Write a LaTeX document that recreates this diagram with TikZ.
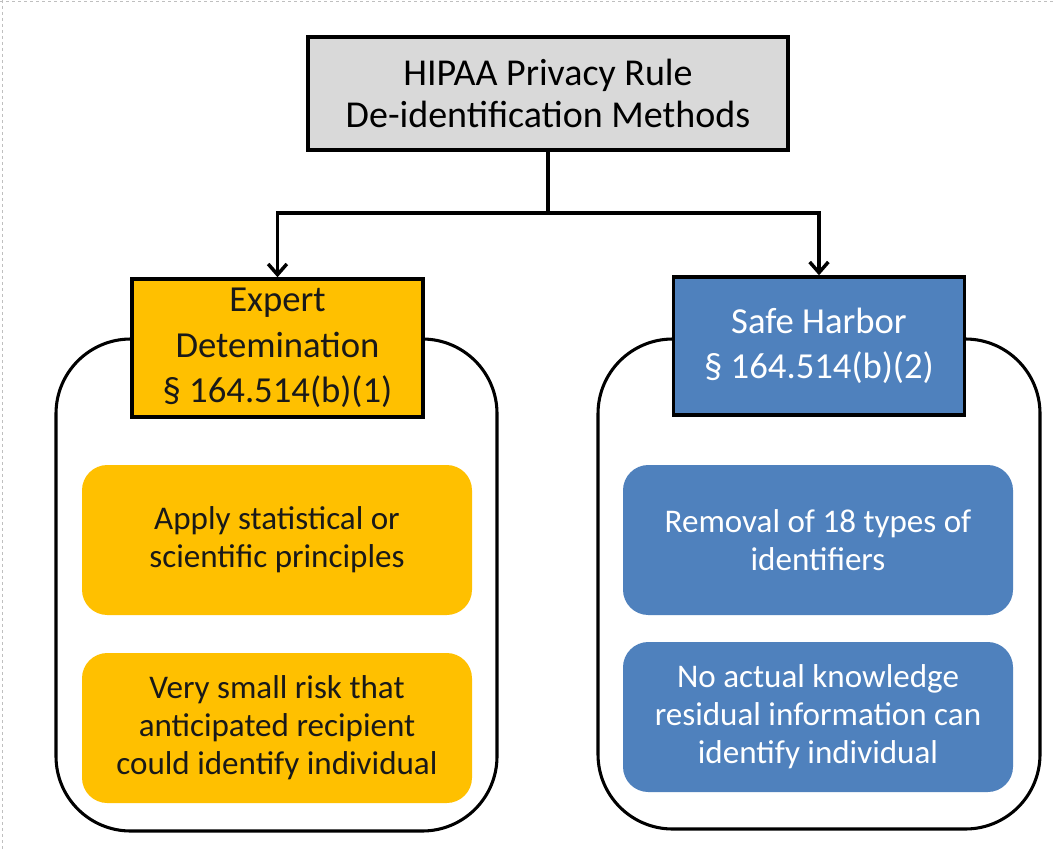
\documentclass[tikz,border=0pt]{standalone}
\usepackage{fontspec}
\setmainfont{Carlito}
\usetikzlibrary{arrows.meta}
\definecolor{gold}{HTML}{FFC000}
\definecolor{officeblue}{HTML}{4F81BD}
\definecolor{headgray}{HTML}{D9D9D9}

\begin{document}
\begin{tikzpicture}[x=0.75pt,y=-0.75pt,
  title/.style={draw=black, line width=2.8pt, fill=headgray, minimum width=360pt,
    minimum height=84.75pt, align=center, inner sep=0pt,
    font=\fontsize{28.5}{31.5}\selectfont},
  method/.style={draw=black, line width=2.6pt, minimum width=218.25pt,
    minimum height=103.5pt, align=center, inner sep=0pt,
    font=\fontsize{27.5}{34}\selectfont},
  panel/.style={draw=black, line width=2.3pt, fill=white, rounded corners=56pt,
    inner sep=0pt},
  item/.style={rounded corners=19pt, minimum width=292.5pt, minimum height=112.5pt,
    align=center, inner sep=0pt, font=\fontsize{24.8}{28.5}\selectfont},
  golditem/.style={item, fill=gold, text=black!90},
  blueitem/.style={item, fill=officeblue, text=white},
  link/.style={line width=2.6pt},
  edge/.style={draw=black!25, line width=1pt, dash pattern=on 2pt off 2.5pt},
]
\useasboundingbox (0,0) rectangle (1055,849);

% faint dotted page edge
\coordinate (c0) at (0,1.5);
\coordinate (c1) at (1055,1.5);
\coordinate (c2) at (2.5,0);
\coordinate (c3) at (2.5,849);
\draw[edge] (c0) -- (c1);
\draw[edge] (c2) -- (c3);

% root
\node[title] (root) at (548,93.5) {HIPAA Privacy Rule\\De-identification Methods};

% the two method panels
\node[panel, minimum width=330.75pt, minimum height=369pt] (lpanel) at (276.5,585) {};
\node[panel, minimum width=331.5pt, minimum height=367.5pt] (rpanel) at (819,584) {};

% method headers
\node[method, fill=gold, text=black!90] (expert) at (277.5,348)
  {Expert\\Detemination\\§ 164.514(b)(1)};
\node[method, fill=officeblue, text=white] (safe) at (819,346)
  {Safe Harbor\\§ 164.514(b)(2)};

% criteria
\node[golditem] (stat) at (277,540) {Apply statistical or\\scientific principles};
\node[golditem] (risk) at (277,728) {Very small risk that\\anticipated recipient\\could identify individual};
\node[blueitem] (ids) at (818,540) {Removal of 18 types of\\identifiers};
\node[blueitem] (know) at (818,717) {No actual knowledge\\residual information can\\identify individual};

% connectors
\coordinate (split) at (548,213);
\draw[link] (root.south) -- (split);
\draw[link, -{Straight Barb[length=8pt,width=14pt]}] (split) -| (expert.north);
\draw[link, -{Straight Barb[length=8pt,width=14pt]}] (split) -| (safe.north);
\end{tikzpicture}
\end{document}
